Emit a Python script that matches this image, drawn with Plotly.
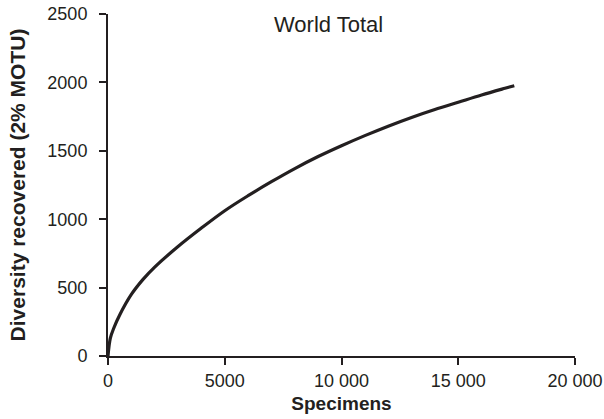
import plotly.graph_objects as go

specimens = [0, 100, 250, 500, 1000, 1500, 2000, 3000, 4000, 5000, 6000, 7000, 8000,
             9000, 10000, 11000, 12000, 13000, 14000, 15000, 16000, 17000, 17400]
diversity = [0, 130, 205, 300, 450, 560, 650, 800, 935, 1062, 1172, 1274, 1370,
             1458, 1537, 1611, 1680, 1744, 1802, 1855, 1908, 1957, 1976]

x_ticks = [0, 5000, 10000, 15000, 20000]
x_tick_labels = ["0", "5000", "10 000", "15 000", "20 000"]
y_ticks = [0, 500, 1000, 1500, 2000, 2500]

ink = "#231f20"
font_family = "Liberation Sans, Arial, sans-serif"

fig = go.Figure()
fig.add_trace(go.Scatter(x=specimens, y=diversity, mode="lines",
                         line=dict(color=ink, width=3.2, shape="spline", smoothing=1.0),
                         showlegend=False, hoverinfo="skip"))

fig.add_annotation(text="World Total", x=0.473, xref="paper", y=1.0, yref="paper",
                   showarrow=False, font=dict(size=22, color=ink, family=font_family),
                   xanchor="center", yanchor="middle", yshift=-10)

fig.update_layout(
    width=604, height=419,
    margin=dict(l=108, r=29, t=14, b=63),
    paper_bgcolor="white", plot_bgcolor="white",
    font=dict(family=font_family, size=18, color=ink),
)

fig.update_xaxes(range=[0, 20000], tickvals=x_ticks, ticktext=x_tick_labels,
                 showline=True, linecolor=ink, linewidth=2, ticks="outside",
                 ticklen=7, tickwidth=2, tickcolor=ink, showgrid=False, zeroline=False,
                 automargin=False, ticklabeloverflow="allow",
                 tickfont=dict(size=18, color=ink),
                 title=dict(text="<b>Specimens</b>", font=dict(size=19, color=ink), standoff=7))
fig.update_yaxes(range=[0, 2500], tickvals=y_ticks,
                 showline=True, linecolor=ink, linewidth=2, ticks="outside",
                 ticklen=7, tickwidth=2, tickcolor=ink, showgrid=False, zeroline=False,
                 automargin=False, ticklabelstandoff=8, ticklabeloverflow="allow",
                 tickfont=dict(size=18, color=ink),
                 title=dict(text="<b>Diversity recovered (2% MOTU)</b>",
                            font=dict(size=21, color=ink), standoff=16))

# remove the browser's default 8px body margin so the figure fills the window exactly
fig.write_html("out.html",
               config={"displayModeBar": False, "staticPlot": True},
               post_script="document.body.style.margin='0';document.body.style.overflow='hidden';")
